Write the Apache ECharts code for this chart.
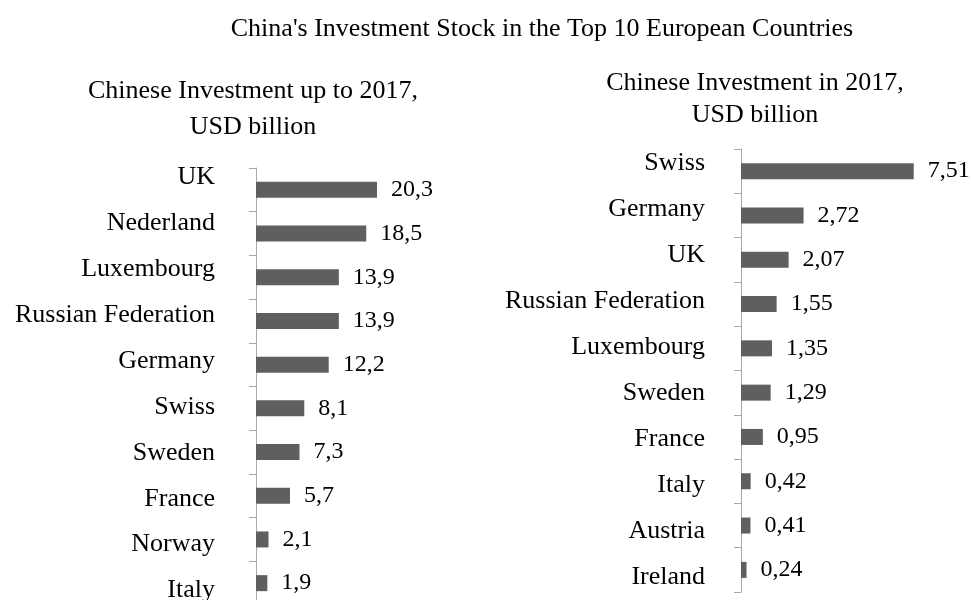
<!DOCTYPE html>
<html>
<head>
<meta charset="utf-8">
<script src="https://cdn.jsdelivr.net/npm/echarts@6/dist/echarts.min.js"></script>
<style>
  html, body { margin: 0; padding: 0; background: #fff; }
  #chart { width: 971px; height: 600px; }
</style>
</head>
<body>
<div id="chart"></div>
<script>
// Cumulative stock up to 2017 (USD billion), top to bottom
const stockCountries = ['UK', 'Nederland', 'Luxembourg', 'Russian Federation', 'Germany',
  'Swiss', 'Sweden', 'France', 'Norway', 'Italy'];
const stockValues = [20.3, 18.5, 13.9, 13.9, 12.2, 8.1, 7.3, 5.7, 2.1, 1.9];

// Flows during 2017 (USD billion), top to bottom
const flowCountries = ['Swiss', 'Germany', 'UK', 'Russian Federation', 'Luxembourg',
  'Sweden', 'France', 'Italy', 'Austria', 'Ireland'];
const flowValues = [7.51, 2.72, 2.07, 1.55, 1.35, 1.29, 0.95, 0.42, 0.41, 0.24];

const mainTitle = "China's Investment Stock in the Top 10 European Countries";
const leftTitle = 'Chinese Investment up to 2017,\nUSD billion';
const rightTitle = 'Chinese Investment in 2017,\nUSD billion';

const FONT = '"Liberation Serif", "Times New Roman", serif';
const BAR = '#5f5f5f';
const AXIS = '#a9a9a9';

// Decimal comma, with the number of decimals used in each panel
const comma = (digits) => (p) => p.value.toFixed(digits).replace('.', ',');

// Axis that carries the bars: line and ticks only
function barAxis(gridIndex, names) {
  return {
    type: 'category', gridIndex, data: names, inverse: true,
    axisLine: { show: true, lineStyle: { color: AXIS, width: 1 } },
    axisTick: { show: true, length: 7, lineStyle: { color: AXIS } },
    axisLabel: { show: false },
    splitLine: { show: false }
  };
}

// Axis that carries the country names, on its own slightly taller grid
function nameAxis(gridIndex, names, margin) {
  return {
    type: 'category', gridIndex, data: names, inverse: true,
    axisLine: { show: false }, axisTick: { show: false },
    axisLabel: { color: '#000', fontFamily: FONT, fontSize: 26, margin },
    splitLine: { show: false }
  };
}

function valAxis(gridIndex, max) {
  return {
    type: 'value', gridIndex, min: 0, max, show: false,
    splitLine: { show: false }
  };
}

function barSeries(idx, values, digits) {
  return {
    type: 'bar', xAxisIndex: idx, yAxisIndex: idx, data: values,
    barWidth: 16, itemStyle: { color: BAR },
    label: {
      show: true, position: 'right', distance: 14, color: '#000',
      fontFamily: FONT, fontSize: 24, formatter: comma(digits)
    },
    silent: true, animation: false
  };
}

// Grids may run past the bottom edge; the last row is cut off there
const grid = (left, top, width, height) => ({ left, top, width, height, outerBoundsMode: 'none', containLabel: false });

const chart = echarts.init(document.getElementById('chart'), null, { renderer: 'canvas' });
chart.setOption({
  backgroundColor: '#fff',
  animation: false,
  grid: [
    grid(256, 168, 149, 437),
    grid(741, 149, 230, 443),
    grid(256, 154.5, 149, 459),
    grid(741, 140.5, 230, 460)
  ],
  xAxis: [valAxis(0, 25), valAxis(1, 10), valAxis(2, 25), valAxis(3, 10)],
  yAxis: [
    barAxis(0, stockCountries), barAxis(1, flowCountries),
    nameAxis(2, stockCountries, 41), nameAxis(3, flowCountries, 36)
  ],
  series: [barSeries(0, stockValues, 1), barSeries(1, flowValues, 2)],
  graphic: [
    {
      type: 'text', x: 542, y: 29,
      style: { text: mainTitle, fill: '#000', font: '26px ' + FONT, textAlign: 'center', textVerticalAlign: 'middle' }
    },
    {
      type: 'text', x: 253, y: 109,
      style: { text: leftTitle, fill: '#000', font: '26px ' + FONT, lineHeight: 36, textAlign: 'center', textVerticalAlign: 'middle' }
    },
    {
      type: 'text', x: 755, y: 99,
      style: { text: rightTitle, fill: '#000', font: '26px ' + FONT, lineHeight: 32, textAlign: 'center', textVerticalAlign: 'middle' }
    }
  ]
});
</script>
</body>
</html>
